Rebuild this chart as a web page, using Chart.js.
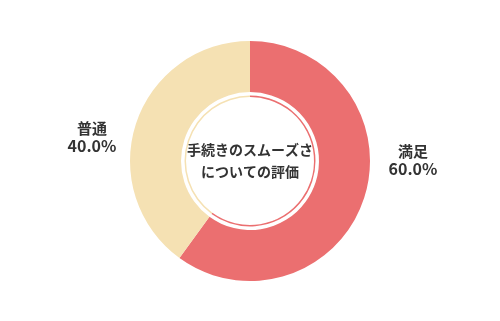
<!DOCTYPE html>
<html>
<head>
<meta charset="utf-8">
<script src="https://cdn.jsdelivr.net/npm/chart.js@4"></script>
<style>
  html, body { margin: 0; padding: 0; background: #fff; }
  #wrap { width: 500px; height: 321px; position: relative; }
</style>
</head>
<body>
<div id="wrap"><canvas id="c" width="500" height="321"></canvas></div>
<script>
const categories = ['満足', '普通'];
const values = [60.0, 40.0];
const percentLabels = ['60.0%', '40.0%'];
const centerLines = ['手続きのスムーズさ', 'についての評価'];
const colors = ['#EB6F70', '#F5E1B3'];

const FONT = '"Noto Sans CJK JP", "Noto Sans", sans-serif';

const labelPlugin = {
  id: 'labelPlugin',
  afterDraw(chart) {
    const ctx = chart.ctx;
    const meta = chart.getDatasetMeta(0);
    const opts = chart.options.plugins.labelPlugin;
    ctx.save();
    ctx.fillStyle = '#333333';
    ctx.textAlign = 'center';
    ctx.textBaseline = 'middle';
    meta.data.forEach((arc, i) => {
      const p = arc.getProps(['x', 'y', 'outerRadius', 'startAngle', 'endAngle'], true);
      const mid = (p.startAngle + p.endAngle) / 2;
      const side = Math.cos(mid) >= 0 ? 1 : -1;
      const off = opts.offsets[i];
      const x = p.x + side * (p.outerRadius + off.dx);
      const y = p.y + off.dy;
      ctx.font = 'bold 15px ' + FONT;
      ctx.fillText(categories[i], x, y - 9);
      ctx.font = 'bold 16px ' + FONT;
      ctx.fillText(percentLabels[i], x, y + 9);
    });
    const a0 = meta.data[0];
    ctx.font = 'bold 14px ' + FONT;
    ctx.fillText(centerLines[0], a0.x, a0.y - 11);
    ctx.fillText(centerLines[1], a0.x, a0.y + 11);
    ctx.restore();
  }
};

new Chart(document.getElementById('c'), {
  type: 'doughnut',
  data: {
    labels: categories,
    datasets: [
      { data: values, backgroundColor: colors, borderWidth: 0, hoverBorderWidth: 0, hoverOffset: 0, weight: 51 },
      { data: values, backgroundColor: ['rgba(0,0,0,0)', 'rgba(0,0,0,0)'], borderWidth: 0, hoverBorderWidth: 0, hoverOffset: 0, weight: 3.5 },
      { data: values, backgroundColor: colors, borderWidth: 0, hoverBorderWidth: 0, hoverOffset: 0, weight: 1.5 }
    ]
  },
  options: {
    responsive: false,
    animation: false,
    cutout: 64,
    layout: { padding: { top: 41, bottom: 40, left: 0, right: 0 } },
    plugins: {
      legend: { display: false },
      tooltip: { enabled: false },
      labelPlugin: { offsets: [ { dx: 43, dy: -1 }, { dx: 38, dy: -24 } ] }
    },
    events: []
  },
  plugins: [labelPlugin]
});
</script>
</body>
</html>
